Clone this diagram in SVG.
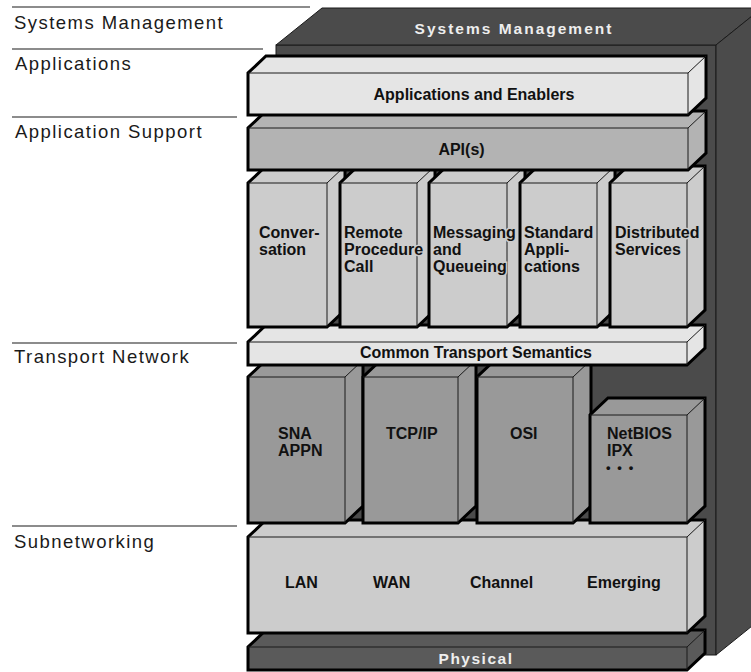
<svg xmlns="http://www.w3.org/2000/svg" width="751" height="672" viewBox="0 0 751 672">
<style>
.lbl{font-family:"Liberation Sans",Arial,sans-serif;font-size:18.5px;letter-spacing:1.45px;fill:#1a1a1a}
.sep{stroke:#666;stroke-width:1.5;fill:none}
.dk{fill:#4b4b4b;stroke:#1a1a1a;stroke-width:1}
.box{stroke:#000;stroke-width:3;stroke-linejoin:miter}
.e{fill:none;stroke:#1a1a1a;stroke-width:1}
.t{font-family:"Liberation Sans",Arial,sans-serif;font-size:16px;font-weight:bold;fill:#111}
.w{font-family:"Liberation Sans",Arial,sans-serif;font-size:15.5px;font-weight:bold;fill:#eeeeee}
.halo{stroke:#cccccc;stroke-width:3;paint-order:stroke}
.c1{fill:#e5e5e5}.c2{fill:#b3b3b3}.c3{fill:#cccccc}.c4{fill:#999999}.c5{fill:#5a5a5a}
</style>

<g id="layer-labels">
<line class="sep" x1="12" y1="7" x2="310" y2="7"/>
<text class="lbl" x="14" y="29">Systems Management</text>
<line class="sep" x1="12" y1="49" x2="263" y2="49"/>
<text class="lbl" x="15" y="70">Applications</text>
<line class="sep" x1="12" y1="117" x2="237" y2="117"/>
<text class="lbl" x="15" y="138">Application Support</text>
<line class="sep" x1="12" y1="343" x2="237" y2="343"/>
<text class="lbl" x="14" y="363">Transport Network</text>
<line class="sep" x1="12" y1="526" x2="237" y2="526"/>
<text class="lbl" x="14" y="548">Subnetworking</text>
</g>

<g id="systems-management">
<rect class="dk" x="276" y="45" width="440" height="610"/>
<polygon class="dk" points="276,45 322,8 762,8 716,45"/>
<polygon class="dk" points="716,45 762,8 762,618 716,655"/>
<text class="w" x="514" y="33.5" text-anchor="middle" style="letter-spacing:2px">Systems Management</text>
</g>

<g id="physical">
<polygon class="box c5" points="248,670 248,647 266,630 705,630 705,653 687,670"/>
<path class="e" d="M248,647H687V670M687,647L705,630"/>
<text class="w" x="476" y="664" text-anchor="middle" style="letter-spacing:1.5px">Physical</text>
</g>

<g id="subnetworking">
<polygon class="box c3" points="248,633 248,537 266,520 705,520 705,616 687,633"/>
<path class="e" d="M248,537H687V633M687,537L705,520"/>
<text class="t" x="285" y="588">LAN</text>
<text class="t" x="373" y="588">WAN</text>
<text class="t" x="470" y="588">Channel</text>
<text class="t" x="587" y="588">Emerging</text>
</g>

<g id="sna-appn">
<polygon class="box c4" points="248,523 248,377 266,360 363,360 363,506 345,523"/>
<path class="e" d="M248,377H345V523M345,377L363,360"/>
<text class="t" x="278" y="439">SNA</text>
<text class="t" x="278" y="456">APPN</text>
</g>
<g id="tcp-ip">
<polygon class="box c4" points="363,523 363,377 381,360 476,360 476,506 458,523"/>
<path class="e" d="M363,377H458V523M458,377L476,360"/>
<text class="t" x="386" y="439">TCP/IP</text>
</g>
<g id="osi">
<polygon class="box c4" points="477,523 477,377 495,360 591,360 591,506 573,523"/>
<path class="e" d="M477,377H573V523M573,377L591,360"/>
<text class="t" x="510" y="439">OSI</text>
</g>
<g id="netbios-ipx">
<polygon class="box c4" points="590,523 590,415 608,398 705,398 705,506 687,523"/>
<path class="e" d="M590,415H687V523M687,415L705,398"/>
<text class="t" x="607" y="439">NetBIOS</text>
<text class="t" x="607" y="456">IPX</text>
<text class="t" x="606" y="472" style="font-size:13px;letter-spacing:1.6px">• • •</text>
</g>

<g id="common-transport-semantics">
<polygon class="box c1" points="248,365 248,342 266,325 705,325 705,348 687,365"/>
<path class="e" d="M248,342H687V365M687,342L705,325"/>
<text class="t" x="476" y="358" text-anchor="middle">Common Transport Semantics</text>
</g>

<g id="conversation">
<polygon class="box c3" points="248,327 248,183 266,166 345,166 345,310 327,327"/>
<path class="e" d="M248,183H327V327M327,183L345,166"/>
<text class="t halo" x="259" y="238">Conver-</text>
<text class="t halo" x="259" y="255">sation</text>
</g>
<g id="remote-procedure-call">
<polygon class="box c3" points="340,327 340,183 358,166 435,166 435,310 417,327"/>
<path class="e" d="M340,183H417V327M417,183L435,166"/>
<text class="t halo" x="344" y="238">Remote</text>
<text class="t halo" x="344" y="255">Procedure</text>
<text class="t halo" x="344" y="272">Call</text>
</g>
<g id="messaging-queueing">
<polygon class="box c3" points="429,327 429,183 447,166 525,166 525,310 507,327"/>
<path class="e" d="M429,183H507V327M507,183L525,166"/>
<text class="t halo" x="433" y="238">Messaging</text>
<text class="t halo" x="433" y="255">and</text>
<text class="t halo" x="433" y="272">Queueing</text>
</g>
<g id="standard-applications">
<polygon class="box c3" points="520,327 520,183 538,166 615,166 615,310 597,327"/>
<path class="e" d="M520,183H597V327M597,183L615,166"/>
<text class="t halo" x="524" y="238">Standard</text>
<text class="t halo" x="524" y="255">Appli-</text>
<text class="t halo" x="524" y="272">cations</text>
</g>
<g id="distributed-services">
<polygon class="box c3" points="610,327 610,183 628,166 705,166 705,310 687,327"/>
<path class="e" d="M610,183H687V327M687,183L705,166"/>
<text class="t halo" x="615" y="238">Distributed</text>
<text class="t halo" x="615" y="255">Services</text>
</g>

<g id="apis">
<polygon class="box c2" points="248,170 248,128 266,111 706,111 706,153 688,170"/>
<path class="e" d="M248,128H688V170M688,128L706,111"/>
<text class="t" x="461.5" y="155" text-anchor="middle">API(s)</text>
</g>

<g id="applications-and-enablers">
<polygon class="box c1" points="248,115 248,73 266,56 706,56 706,98 688,115"/>
<path class="e" d="M248,73H688V115M688,73L706,56"/>
<text class="t" x="474" y="100" text-anchor="middle">Applications and Enablers</text>
</g>

<g id="connectors"></g>
</svg>
